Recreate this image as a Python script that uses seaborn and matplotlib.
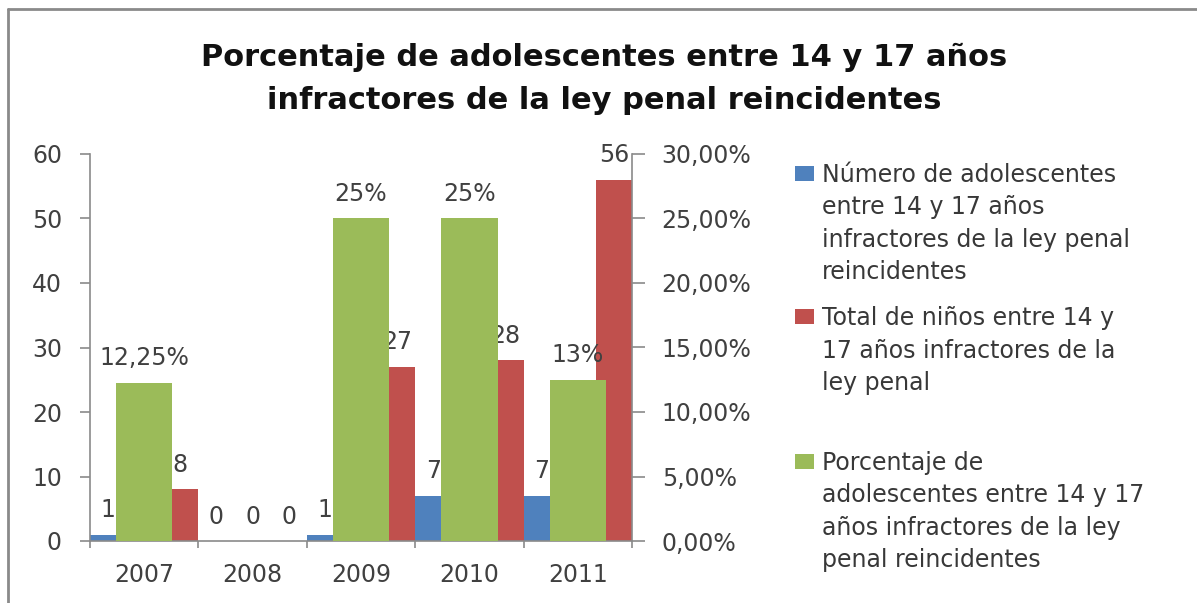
import matplotlib
matplotlib.use("Agg")
import matplotlib.pyplot as plt
from matplotlib.lines import Line2D
from matplotlib.patches import Rectangle
from matplotlib.ticker import FixedLocator, FuncFormatter
from decimal import Decimal, ROUND_HALF_UP
import pandas as pd
import seaborn as sns

# ---- data ---------------------------------------------------------------
years = ["2007", "2008", "2009", "2010", "2011"]
reincidentes = [1, 0, 1, 7, 7]            # adolescents who re-offended
total_ninos = [8, 0, 27, 28, 56]          # all offenders aged 14-17
porcentaje = [0.1225, 0.0, 0.25, 0.25, 0.125]
pct_decimals = [2, 0, 0, 0, 0]            # decimals shown in each % label

title_lines = ["Porcentaje de adolescentes entre 14 y 17 años",
               "infractores de la ley penal reincidentes"]
legend_entries = [
    ["Número de adolescentes", "entre 14 y 17 años",
     "infractores de la ley penal", "reincidentes"],
    ["Total de niños entre 14 y", "17 años infractores de la", "ley penal"],
    ["Porcentaje de", "adolescentes entre 14 y 17",
     "años infractores de la ley", "penal reincidentes"],
]

BLUE, RED, GREEN = "#4F81BD", "#C0504D", "#9BBB59"
AXIS_GRAY = "#8a8a8a"
TEXT_GRAY = "#404040"
FS = 17

sns.set_theme(style="white")
plt.rcParams["font.family"] = ["DejaVu Sans"]

W, H = 1197, 603
fig = plt.figure(figsize=(W / 100, H / 100), dpi=100)
fig.patch.set_facecolor("white")


def fx(px):
    return px / W


def fy(py):
    return 1 - py / H


ax = fig.add_axes([fx(90), fy(541), fx(632) - fx(90), fy(154) - fy(541)])

# primary axis: counts, with an empty middle slot so the series sit at the edges
counts = pd.DataFrame({
    "year": years * 3,
    "serie": ["num"] * len(years) + ["hueco"] * len(years) + ["tot"] * len(years),
    "valor": reincidentes + [0] * len(years) + total_ninos,
})
sns.barplot(data=counts, x="year", y="valor", hue="serie",
            hue_order=["num", "hueco", "tot"],
            palette={"num": BLUE, "hueco": "white", "tot": RED},
            width=1.0, gap=0, saturation=1, linewidth=0, errorbar=None,
            legend=False, ax=ax)

# secondary axis: percentage
ax2 = ax.twinx()
sns.barplot(x=years, y=porcentaje, color=GREEN, width=0.52, saturation=1,
            linewidth=0, errorbar=None, ax=ax2)

for a in (ax, ax2):
    a.set_xlim(-0.5, len(years) - 0.5)
    a.set_xlabel("")
    a.set_ylabel("")
    a.grid(False)
    for s in a.spines.values():
        s.set_visible(False)
        s.set_color(AXIS_GRAY)
        s.set_linewidth(1.2)

ax.set_ylim(0, 60)
ax2.set_ylim(0, 0.30)
ax.spines["left"].set_visible(True)
ax.spines["bottom"].set_visible(True)
ax2.spines["right"].set_visible(True)

ax.yaxis.set_major_locator(FixedLocator(range(0, 61, 10)))
ax.tick_params(axis="y", left=True, direction="out", length=7.2, width=1.2,
               color=AXIS_GRAY, pad=13, labelsize=FS, labelcolor=TEXT_GRAY)
ax2.yaxis.set_major_locator(FixedLocator([i * 0.05 for i in range(7)]))
ax2.yaxis.set_major_formatter(
    FuncFormatter(lambda v, _: f"{v * 100:.2f}%".replace(".", ",")))
ax2.tick_params(axis="y", right=True, direction="out", length=9.4, width=1.2,
                color=AXIS_GRAY, pad=12, labelsize=FS, labelcolor=TEXT_GRAY)

ax.set_xticks(range(len(years)))
ax.set_xticklabels(years)
ax.set_xticks([i - 0.5 for i in range(len(years) + 1)], minor=True)
ax.tick_params(axis="x", which="major", bottom=True, length=0, pad=16,
               labelsize=FS, labelcolor=TEXT_GRAY)
ax.tick_params(axis="x", which="minor", bottom=True, direction="out",
               length=5, width=1.2, color=AXIS_GRAY)
ax2.tick_params(axis="x", which="both", bottom=False, top=False,
                labelbottom=False)


# value labels
def pct_label(v, d):
    if v == 0:
        return "0"
    q = Decimal(str(v * 100)).quantize(Decimal(1).scaleb(-d), ROUND_HALF_UP)
    return f"{q}%".replace(".", ",")


lab_kw = dict(padding=9, fontsize=FS, color=TEXT_GRAY)
ax.bar_label(ax.containers[0], labels=[str(v) for v in reincidentes], **lab_kw)
ax.bar_label(ax.containers[2], labels=[str(v) for v in total_ninos], **lab_kw)
ax2.bar_label(ax2.containers[0],
              labels=[pct_label(v, d) for v, d in zip(porcentaje, pct_decimals)],
              **lab_kw)

# title
for txt, base in zip(title_lines, (66, 109)):
    fig.text(fx(604), fy(base), txt, ha="center", va="baseline",
             fontsize=22, fontweight="bold", color="#111111")

# legend
colors = [BLUE, RED, GREEN]
baselines = [[182, 214, 247, 279], [325, 358, 390], [470, 502, 535, 567]]
for lines, col, bases in zip(legend_entries, colors, baselines):
    fig.add_artist(Rectangle((fx(795), fy(bases[0] - 1)), fx(19), 15 / H,
                             transform=fig.transFigure, facecolor=col,
                             edgecolor="none"))
    for line, b in zip(lines, bases):
        fig.text(fx(822), fy(b), line, ha="left", va="baseline",
                 fontsize=FS, color="#383838")

# chart-area border (top and left edges)
fig.add_artist(Line2D([fx(8), fx(8)], [0, fy(9)], transform=fig.transFigure,
                      color=AXIS_GRAY, lw=2))
fig.add_artist(Line2D([fx(8), 1], [fy(9), fy(9)], transform=fig.transFigure,
                      color=AXIS_GRAY, lw=2))

fig.savefig("out.png", dpi=100)
